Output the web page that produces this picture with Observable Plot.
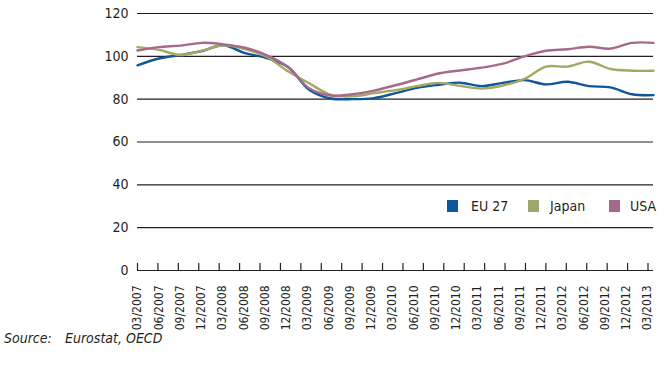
<!DOCTYPE html>
<html>
<head>
<meta charset="utf-8">
<script src="https://cdn.jsdelivr.net/npm/d3@7"></script>
<script src="https://cdn.jsdelivr.net/npm/@observablehq/plot@0.6"></script>
<style>
  html, body { margin: 0; padding: 0; background: #fff; }
  #wrap { position: relative; width: 664px; height: 376px; font-family: "DejaVu Sans Condensed", "Liberation Sans", sans-serif; color: #231f20; }
  #chart { position: absolute; left: 0; top: 0; }
  #chart svg { display: block; }
  .leg { position: absolute; font-size: 14px; line-height: 14px; }
  .sw { position: absolute; width: 11px; height: 12px; }
  #source { position: absolute; left: 4px; top: 331px; font-size: 14px; line-height: 14px; font-style: italic; }
  #source span { position: absolute; left: 61px; white-space: nowrap; }
</style>
</head>
<body>
<div id="wrap">
  <div id="chart"></div>
  <div class="sw" style="left:447px;top:200px;background:#0f579c"></div>
  <div class="leg" style="left:471px;top:199px">EU 27</div>
  <div class="sw" style="left:528px;top:200px;background:#9ea86d"></div>
  <div class="leg" style="left:550px;top:199px">Japan</div>
  <div class="sw" style="left:609px;top:200px;background:#a7698b"></div>
  <div class="leg" style="left:630px;top:199px">USA</div>
  <div id="source">Source:<span>Eurostat, OECD</span></div>
</div>
<script>
const periods = ["03/2007","06/2007","09/2007","12/2007","03/2008","06/2008","09/2008","12/2008",
  "03/2009","06/2009","09/2009","12/2009","03/2010","06/2010","09/2010","12/2010",
  "03/2011","06/2011","09/2011","12/2011","03/2012","06/2012","09/2012","12/2012","03/2013"];
const eu27  = [95.8, 99.0, 100.6, 102.5, 105.2, 101.5, 99.2, 95.0, 84.3, 80.3, 80.0, 80.5, 82.8,
  85.3, 86.7, 87.7, 86.1, 87.6, 88.9, 86.9, 88.1, 86.1, 85.5, 82.3, 81.9];
const japan = [104.3, 103.0, 100.6, 102.7, 105.2, 103.4, 99.8, 93.0, 87.3, 82.0, 81.3, 82.8, 84.2,
  86.1, 87.6, 86.2, 85.0, 86.4, 89.5, 95.2, 95.2, 97.5, 94.1, 93.3, 93.3];
const usa   = [102.7, 104.3, 105.0, 106.3, 105.6, 104.0, 100.6, 95.0, 85.0, 81.7, 82.3, 84.0, 86.5,
  89.2, 92.0, 93.4, 94.7, 96.6, 100.0, 102.6, 103.3, 104.5, 103.6, 106.3, 106.3];
const seriesNames = ["EU 27", "Japan", "USA"];
const seriesColors = ["#0f579c", "#a3a862", "#a7698b"];
const yTicks = [0, 20, 40, 60, 80, 100, 120];

const rows = [];
[eu27, japan, usa].forEach((vals, s) => vals.forEach((v, i) => rows.push({series: seriesNames[s], i, value: v})));

// category label spacing and tick-mark spacing differ slightly in the original (Excel) axis
const labelStep = 21.25 / 21.5;
const tickStep = 20.42 / 21.5;
const labelPos = periods.map((p, i) => i * labelStep);
const tickPos = d3.range(26).map(j => j * tickStep);

const chart = Plot.plot({
  width: 664,
  height: 330,
  marginTop: 13,
  marginBottom: 60,
  marginLeft: 137,
  marginRight: 11,
  style: {fontFamily: "'DejaVu Sans Condensed', 'Liberation Sans', sans-serif", fontSize: "14px", color: "#231f20", overflow: "visible"},
  x: {domain: [0, periods.length - 1]},
  y: {domain: [0, 120]},
  color: {domain: seriesNames, range: seriesColors},
  marks: [
    Plot.ruleY(yTicks, {stroke: "#231f20", strokeWidth: 1.2}),
    Plot.ruleX(tickPos, {y1: 0, y2: 3.3, stroke: "#231f20", strokeWidth: 1.2}),
    Plot.axisY(yTicks, {tickSize: 0, tickPadding: 9, fontSize: 14, label: null}),
    Plot.axisX(labelPos, {tickSize: 0, tickPadding: 15, tickRotate: -90, fontSize: 12, label: null,
      tickFormat: d => periods[Math.round(d / labelStep)]}),
    Plot.line(rows, {x: "i", y: "value", z: "series", stroke: "series", strokeWidth: 2.4, curve: "catmull-rom"})
  ]
});
document.getElementById("chart").appendChild(chart);
</script>
</body>
</html>
